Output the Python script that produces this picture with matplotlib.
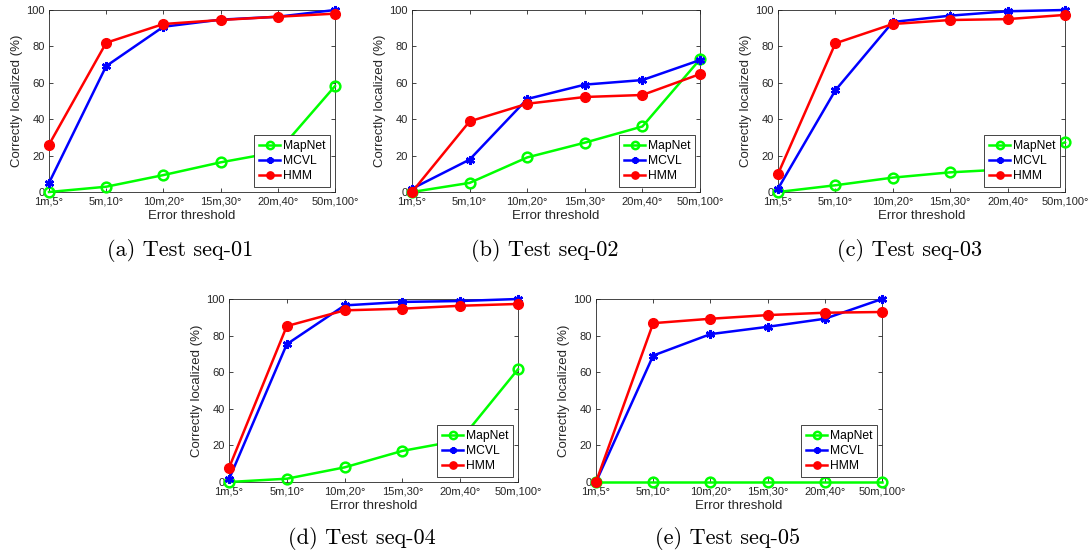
import matplotlib
matplotlib.use("Agg")
import matplotlib.pyplot as plt

plt.rcParams['font.family'] = ['Liberation Sans', 'DejaVu Sans']

thresholds = ["1m,5°", "5m,10°", "10m,20°", "15m,30°", "20m,40°", "50m,100°"]
methods = ["MapNet", "MCVL", "HMM"]

seq01_mapnet = [0, 2.9, 9.3, 16.3, 22.0, 58.2]
seq01_mcvl = [5.0, 69.2, 90.8, 94.7, 96.3, 100]
seq01_hmm = [26.0, 82.0, 92.3, 94.5, 96.3, 98.0]

seq02_mapnet = [0, 5.0, 19.0, 27.1, 36.0, 72.9]
seq02_mcvl = [1.8, 17.8, 51.1, 59.0, 61.5, 72.5]
seq02_hmm = [0, 38.8, 48.5, 52.2, 53.3, 64.8]

seq03_mapnet = [0, 3.7, 7.9, 10.8, 12.5, 27.3]
seq03_mcvl = [1.8, 55.9, 93.4, 96.9, 99.3, 100]
seq03_hmm = [9.9, 81.7, 92.3, 94.5, 95.0, 97.3]

seq04_mapnet = [0, 1.8, 8.0, 17.0, 22.8, 61.6]
seq04_mcvl = [1.5, 75.3, 96.5, 98.4, 98.9, 100]
seq04_hmm = [7.7, 85.2, 93.8, 94.7, 96.3, 97.3]

seq05_mapnet = [0, 0, 0, 0, 0, 0]
seq05_mcvl = [0, 69.1, 80.8, 84.8, 89.2, 100]
seq05_hmm = [0, 86.8, 89.2, 91.2, 92.5, 92.9]

captions = ["(a) Test seq-01", "(b) Test seq-02", "(c) Test seq-03",
            "(d) Test seq-04", "(e) Test seq-05"]
panels = [
    (seq01_mapnet, seq01_mcvl, seq01_hmm),
    (seq02_mapnet, seq02_mcvl, seq02_hmm),
    (seq03_mapnet, seq03_mcvl, seq03_hmm),
    (seq04_mapnet, seq04_mcvl, seq04_hmm),
    (seq05_mapnet, seq05_mcvl, seq05_hmm),
]

W, H = 1091, 556
# axes boxes in pixels: left, right, top, bottom
boxes = [
    (49, 335, 10, 192),
    (412, 700, 10, 192),
    (778, 1065, 10, 192),
    (229, 518, 299, 482),
    (596, 882, 299, 482),
]
caption_pos = [(180, 250), (545, 250), (910, 250), (362, 539), (728, 539)]

fig = plt.figure(figsize=(W / 100, H / 100), dpi=100)
txt = '#262626'

for (l, r, t, b), data, cap, (cx, cy) in zip(boxes, panels, captions, caption_pos):
    ax = fig.add_axes([l / W, 1 - b / H, (r - l) / W, (b - t) / H])
    x = list(range(len(thresholds)))
    ax.plot(x, data[0], color=(0, 1, 0), lw=1.8, marker='o', ms=7,
            mfc='none', mew=1.8, label=methods[0], clip_on=False, zorder=3)
    ax.plot(x, data[1], color=(0, 0, 1), lw=1.8, marker=(6, 2, 0), ms=6.5,
            mew=1.8, label=methods[1], clip_on=False, zorder=4)
    ax.plot(x, data[2], color=(1, 0, 0), lw=1.8, marker='o', ms=7,
            label=methods[2], clip_on=False, zorder=5)
    ax.set_xlim(0, 5)
    ax.set_ylim(0, 100)
    ax.set_xticks(x)
    ax.set_xticklabels(thresholds)
    ax.set_yticks([0, 20, 40, 60, 80, 100])
    ax.tick_params(direction='in', top=True, right=True, labelsize=8,
                   colors=txt, length=3, width=0.6, pad=3)
    for s in ax.spines.values():
        s.set_color(txt)
        s.set_linewidth(0.6)
    ax.set_xlabel("Error threshold", fontsize=9.5, color=txt, labelpad=2.5)
    ax.set_ylabel("Correctly localized (%)", fontsize=9.5, color=txt, labelpad=2.5)
    leg = ax.legend(loc='lower right', fontsize=8.7, frameon=True, fancybox=False,
                    edgecolor=txt, framealpha=1, borderaxespad=0.4,
                    handlelength=1.7, handletextpad=0.25, borderpad=0.4,
                    labelspacing=0.25, markerscale=0.75)
    leg.get_frame().set_linewidth(0.6)
    leg.set_zorder(10)
    fig.text(cx / W, 1 - cy / H, cap, ha='center', va='center',
             fontsize=16, family='cmr10')

fig.savefig("out.png", dpi=100)
